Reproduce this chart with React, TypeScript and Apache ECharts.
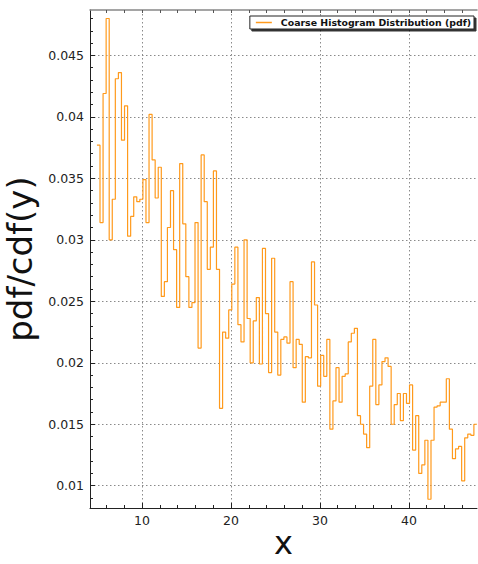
import React, { useEffect, useRef } from 'react';
import * as echarts from 'echarts';

// Histogram bins (left edge of first bin and bin width, in x units)
const binStart = 4.94;
const binWidth = 0.3444;

// pdf value of each bin
const pdfValues = [
  0.0377, 0.0314, 0.0419, 0.0480, 0.0300, 0.0333, 0.0431, 0.0436, 0.0381, 0.0409,
  0.0303, 0.0319, 0.0335, 0.0331, 0.0333, 0.0349, 0.0314, 0.0402, 0.0365, 0.0334,
  0.0359, 0.0254, 0.0266, 0.0310, 0.0340, 0.0292, 0.0245, 0.0362, 0.0313, 0.0270,
  0.0245, 0.0249, 0.0314, 0.0212, 0.0369, 0.0331, 0.0276, 0.0294, 0.0356, 0.0276,
  0.0163, 0.0225, 0.0220, 0.0243, 0.0264, 0.0294, 0.0231, 0.0217, 0.0300, 0.0236,
  0.0200, 0.0234, 0.0253, 0.0199, 0.0293, 0.0240, 0.0192, 0.0285, 0.0225, 0.0190,
  0.0219, 0.0221, 0.0216, 0.0266, 0.0196, 0.0219, 0.0215, 0.0168, 0.0205, 0.0204,
  0.0282, 0.0247, 0.0181, 0.0206, 0.0189, 0.0219, 0.0146, 0.0169, 0.0196, 0.0168,
  0.0189, 0.0191, 0.0217, 0.0224, 0.0228, 0.0157, 0.0150, 0.0142, 0.0131, 0.0181,
  0.0219, 0.0166, 0.0182, 0.0201, 0.0204, 0.0197, 0.0150, 0.0166, 0.0175, 0.0153,
  0.0175, 0.0167, 0.0182, 0.0129, 0.0157, 0.0110, 0.0117, 0.0137, 0.0089, 0.0137,
  0.0164, 0.0165, 0.0168, 0.0168, 0.0187, 0.0146, 0.0122, 0.0130, 0.0132, 0.0104,
  0.0139, 0.0142, 0.0141, 0.0150,
];

const seriesName = 'Coarse Histogram Distribution (pdf)';
const xTitle = 'x';
const yTitle = 'pdf/cdf(y)';

const xMin = 4.16;
const xMax = 47.65;
const yMin = 0.00819;
const yMax = 0.04869;

const xMajorTicks = [10, 20, 30, 40];
const xMinorTicks = [6, 8, 12, 14, 16, 18, 22, 24, 26, 28, 32, 34, 36, 38, 42, 44, 46];
const yMajorTicks = [0.01, 0.015, 0.02, 0.025, 0.03, 0.035, 0.04, 0.045];
const yMinorTicks = [
  0.009, 0.011, 0.012, 0.013, 0.014, 0.016, 0.017, 0.018, 0.019,
  0.021, 0.022, 0.023, 0.024, 0.026, 0.027, 0.028, 0.029,
  0.031, 0.032, 0.033, 0.034, 0.036, 0.037, 0.038, 0.039,
  0.041, 0.042, 0.043, 0.044, 0.046, 0.047, 0.048,
];

const FONT = 'DejaVu Sans';
const LINE_COLOR = '#ff9a1c';

export default function App() {
  const ref = useRef<HTMLDivElement>(null);

  useEffect(() => {
    if (!ref.current) return;
    const chart = echarts.init(ref.current, undefined, { renderer: 'svg' });

    const points: [number, number][] = pdfValues.map((v, i) => [binStart + i * binWidth, v]);
    points.push([binStart + pdfValues.length * binWidth, pdfValues[pdfValues.length - 1]]);

    const hidden = { show: false };
    const gridLine = { show: true, lineStyle: { color: '#8a8a8a', width: 1, type: [1.5, 2.5] as number[] } };

    chart.setOption({
      animation: false,
      backgroundColor: '#ffffff',
      grid: { left: 90, right: 1, top: 10, bottom: 56, containLabel: false, outerBoundsMode: 'none' },
      legend: {
        show: true,
        right: 4,
        top: 16,
        backgroundColor: '#ffffff',
        borderColor: '#222222',
        borderWidth: 1,
        borderRadius: 0,
        padding: [2, 3, 2, 6],
        shadowColor: 'rgba(0,0,0,0.8)',
        shadowBlur: 0,
        shadowOffsetX: 2,
        shadowOffsetY: 2,
        itemWidth: 16,
        itemHeight: 1.5,
        icon: 'rect',
        textStyle: { fontFamily: FONT, fontWeight: 'bold', fontSize: 9.4, color: '#111', padding: [0, 0, 0, 4] },
        data: [seriesName],
      },
      xAxis: [
        {
          type: 'value', position: 'bottom', min: xMin, max: xMax,
          axisLine: { show: true, onZero: false, lineStyle: { color: '#222', width: 1 } },
          axisTick: { show: true, inside: true, length: 5, customValues: xMajorTicks, lineStyle: { color: '#222' } },
          axisLabel: { show: true, customValues: xMajorTicks, fontFamily: FONT, fontSize: 12.5, color: '#222', margin: 6 },
          splitLine: gridLine,
          name: xTitle, nameLocation: 'middle', nameGap: 20, nameMoveOverlap: false,
          nameTextStyle: { fontFamily: FONT, fontSize: 32, lineHeight: 30, color: '#111' },
        },
        {
          type: 'value', position: 'bottom', min: xMin, max: xMax,
          axisLine: hidden,
          axisTick: { show: true, inside: true, length: 3, customValues: xMinorTicks, lineStyle: { color: '#222' } },
          axisLabel: hidden, splitLine: hidden,
        },
        {
          type: 'value', position: 'top', min: xMin, max: xMax,
          axisLine: { show: true, onZero: false, lineStyle: { color: '#888', width: 1.5 } },
          axisTick: { show: true, inside: true, length: 3, customValues: [...xMajorTicks, ...xMinorTicks], lineStyle: { color: '#555' } },
          axisLabel: hidden, splitLine: hidden,
        },
      ],
      yAxis: [
        {
          type: 'value', position: 'left', min: yMin, max: yMax,
          axisLine: { show: true, onZero: false, lineStyle: { color: '#222', width: 1 } },
          axisTick: { show: true, inside: true, length: 5, customValues: yMajorTicks, lineStyle: { color: '#222' } },
          axisLabel: { show: true, customValues: yMajorTicks, fontFamily: FONT, fontSize: 12.5, color: '#222', margin: 6 },
          splitLine: gridLine,
          name: yTitle, nameLocation: 'middle', nameGap: 46,
          nameTextStyle: { fontFamily: FONT, fontSize: 34, color: '#111' },
        },
        {
          type: 'value', position: 'left', min: yMin, max: yMax,
          axisLine: hidden,
          axisTick: { show: true, inside: true, length: 3, customValues: yMinorTicks, lineStyle: { color: '#222' } },
          axisLabel: hidden, splitLine: hidden,
        },
      ],
      series: [
        {
          name: seriesName,
          type: 'line',
          xAxisIndex: 0,
          yAxisIndex: 0,
          step: 'end',
          showSymbol: false,
          symbol: 'none',
          data: points,
          lineStyle: { color: LINE_COLOR, width: 1.2 },
          itemStyle: { color: LINE_COLOR },
        },
      ],
    });

    return () => chart.dispose();
  }, []);

  return (
    <div
      ref={ref}
      style={{ position: 'absolute', left: 0, top: 0, width: 478, height: 564, background: '#fff' }}
    />
  );
}
